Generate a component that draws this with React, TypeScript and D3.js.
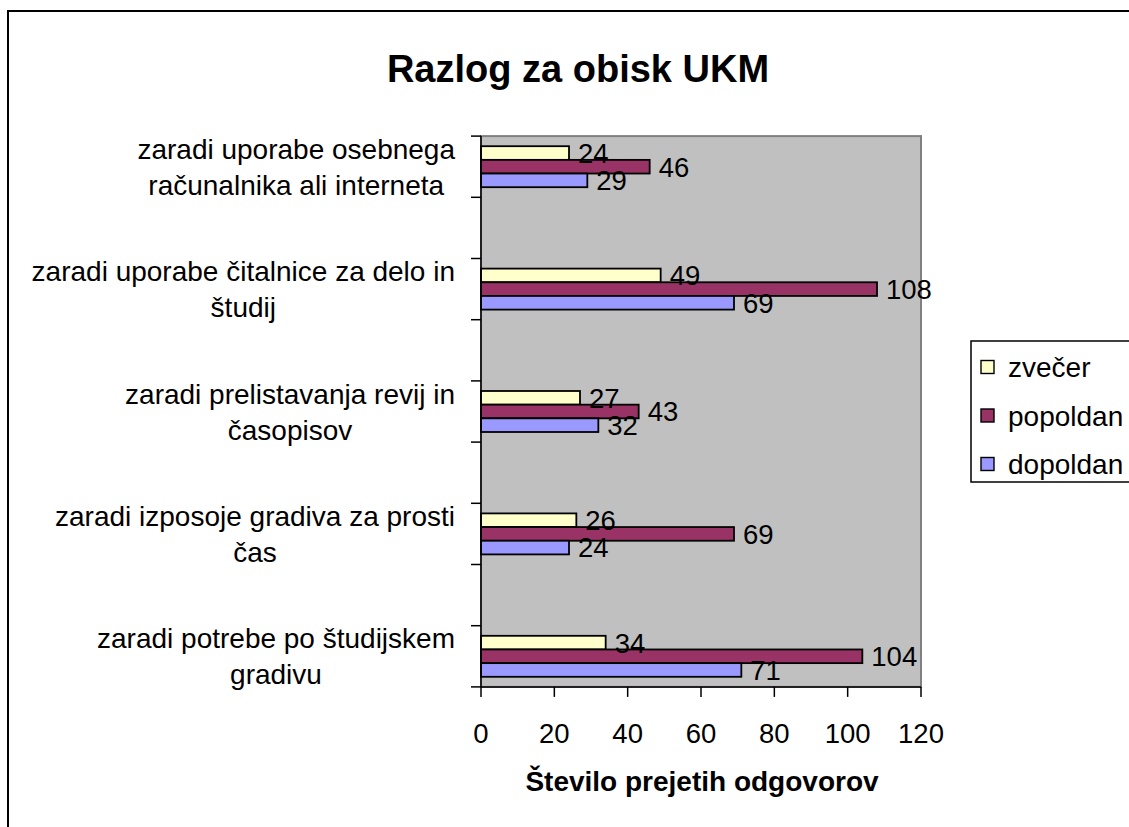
import React, { useEffect, useRef } from "react";
import * as d3 from "d3";

const categories = [
  "zaradi uporabe osebnega računalnika ali interneta",
  "zaradi uporabe čitalnice za delo in študij",
  "zaradi prelistavanja revij in časopisov",
  "zaradi izposoje gradiva za prosti čas",
  "zaradi potrebe po študijskem gradivu",
];
const seriesNames = ["zvečer", "popoldan", "dopoldan"];
const zvecer = [24, 49, 27, 26, 34];
const popoldan = [46, 108, 43, 69, 104];
const dopoldan = [29, 69, 32, 24, 71];
const xTicks = [0, 20, 40, 60, 80, 100, 120];
const seriesColors = ["#FFFFCC", "#993366", "#9999FF"];
const title = "Razlog za obisk UKM";
const xTitle = "Število prejetih odgovorov";

export default function App() {
  const ref = useRef<SVGSVGElement>(null);
  useEffect(() => {
    const svg = d3.select(ref.current);
    svg.selectAll("*").remove();
    const font = "'Liberation Sans', Arial, sans-serif";
    const values = [zvecer, popoldan, dopoldan];

    // outer frame
    svg.append("rect").attr("x", 8).attr("y", 11).attr("width", 1140).attr("height", 840)
      .attr("fill", "white").attr("stroke", "black").attr("stroke-width", 2);

    const x = d3.scaleLinear().domain([0, 120]).range([481, 921]);
    const y = d3.scaleBand<string>().domain(categories).range([105.5, 717.5]);
    const step = y.step();
    const inner = d3.scaleBand<string>().domain(seriesNames).range([-20.5, 20.5]);

    const yTicks: number[] = [];
    categories.forEach((c) => {
      yTicks.push(y(c)! + step / 4, y(c)! + (3 * step) / 4);
    });
    const plotTop = yTicks[0];
    const plotBottom = yTicks[yTicks.length - 1];

    // plot area
    svg.append("rect").attr("x", x(0)).attr("y", plotTop).attr("width", x(120) - x(0))
      .attr("height", plotBottom - plotTop).attr("fill", "#C0C0C0")
      .attr("stroke", "#808080").attr("stroke-width", 2);

    // bars
    seriesNames.forEach((s, si) => {
      categories.forEach((c, ci) => {
        const v = values[si][ci];
        const cy = y(c)! + step / 2;
        const by = cy + inner(s)!;
        svg.append("rect").attr("x", x(0)).attr("y", by).attr("width", x(v) - x(0))
          .attr("height", inner.bandwidth()).attr("fill", seriesColors[si])
          .attr("stroke", "black").attr("stroke-width", 1.8);
      });
    });
    // value labels
    seriesNames.forEach((s, si) => {
      categories.forEach((c, ci) => {
        const v = values[si][ci];
        const cy = y(c)! + step / 2 + inner(s)! + inner.bandwidth() / 2;
        svg.append("text").attr("x", x(v) + 9).attr("y", cy).attr("dy", "0.36em")
          .attr("font-family", font).attr("font-size", 27.5).attr("fill", "black")
          .text(String(v));
      });
    });

    // axes
    svg.append("line").attr("x1", x(0)).attr("x2", x(0)).attr("y1", plotTop).attr("y2", plotBottom)
      .attr("stroke", "black").attr("stroke-width", 1.5);
    svg.append("line").attr("x1", x(0)).attr("x2", x(120)).attr("y1", plotBottom).attr("y2", plotBottom)
      .attr("stroke", "black").attr("stroke-width", 1.5);
    yTicks.forEach((t) => {
      svg.append("line").attr("x1", x(0) - 10).attr("x2", x(0)).attr("y1", t).attr("y2", t)
        .attr("stroke", "black").attr("stroke-width", 1.5);
    });
    xTicks.forEach((t) => {
      svg.append("line").attr("x1", x(t)).attr("x2", x(t)).attr("y1", plotBottom).attr("y2", plotBottom + 10)
        .attr("stroke", "black").attr("stroke-width", 1.5);
      svg.append("text").attr("x", x(t)).attr("y", 743).attr("text-anchor", "middle")
        .attr("font-family", font).attr("font-size", 27.5).text(String(t));
    });

    // category labels (wrapped, centered lines, right-aligned block)
    const maxW = 440;
    const rightEdge = 455;
    const lineGap = 36;
    categories.forEach((c) => {
      const words = c.split(" ");
      const t = svg.append("text").attr("font-family", font).attr("font-size", 28);
      const measure = (s: string) => {
        t.text(s);
        return (t.node() as SVGTextElement).getComputedTextLength();
      };
      const lines: string[] = [];
      let cur = "";
      words.forEach((w) => {
        const test = cur ? cur + " " + w : w;
        if (cur && measure(test) > maxW) {
          lines.push(cur);
          cur = w;
        } else cur = test;
      });
      if (cur) lines.push(cur);
      const widths = lines.map(measure);
      const blockW = Math.max(...widths);
      const cx = rightEdge - blockW / 2;
      const cy = y(c)! + step / 2;
      t.text(null);
      lines.forEach((ln, i) => {
        t.append("tspan").attr("x", cx).attr("text-anchor", "middle")
          .attr("y", cy + (i - (lines.length - 1) / 2) * lineGap).attr("dy", "0.36em").text(ln);
      });
    });

    // title
    svg.append("text").attr("x", 578).attr("y", 82).attr("text-anchor", "middle")
      .attr("font-family", font).attr("font-size", 38).attr("font-weight", "bold").text(title);
    svg.append("text").attr("x", 702).attr("y", 791).attr("text-anchor", "middle")
      .attr("font-family", font).attr("font-size", 28).attr("font-weight", "bold").text(xTitle);

    // legend
    const lg = svg.append("g");
    lg.append("rect").attr("x", 971).attr("y", 341).attr("width", 180).attr("height", 141)
      .attr("fill", "white").attr("stroke", "black").attr("stroke-width", 1.5);
    const legY = d3.scalePoint<string>().domain(seriesNames).range([367, 464]);
    seriesNames.forEach((s, si) => {
      const cy = legY(s)!;
      lg.append("rect").attr("x", 981).attr("y", cy - 6.5).attr("width", 13).attr("height", 13)
        .attr("fill", seriesColors[si]).attr("stroke", "black").attr("stroke-width", 1.4);
      lg.append("text").attr("x", 1008).attr("y", cy).attr("dy", "0.36em")
        .attr("font-family", font).attr("font-size", 28).text(s);
    });
  }, []);
  return (
    <svg ref={ref} width={1129} height={827}
      style={{ position: "absolute", left: 0, top: 0, background: "white" }} />
  );
}
